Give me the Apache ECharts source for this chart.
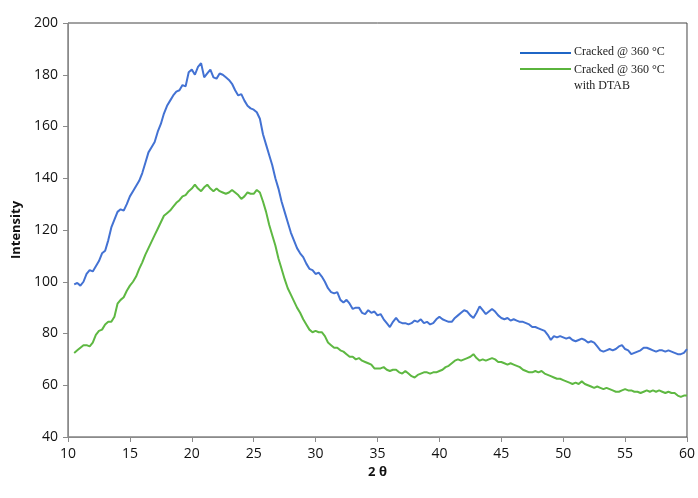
<!DOCTYPE html>
<html>
<head>
<meta charset="utf-8">
<script src="https://cdn.jsdelivr.net/npm/echarts@6/dist/echarts.min.js"></script>
<style>html,body{margin:0;padding:0;background:#fff}#c{width:698px;height:498px}</style>
</head>
<body>
<div id="c"></div>
<script>
// 2θ sampling: from 10.5 to 60 in steps of 0.25
var thetaStart = 10.5;
var thetaStep = 0.25;

var seriesNames = ['Cracked @ 360 °C', 'Cracked @ 360 °C\nwith DTAB'];

var crackedValues = [
  99, 99.5,                                   // 10.5-10.75
  98.5, 100, 103, 104.5,                      // 11
  104, 106, 108, 111,                         // 12
  112, 116, 121, 124,                         // 13
  127, 128, 127.5, 130,                       // 14
  133, 135, 137, 139,                         // 15
  142, 146, 150, 152,                         // 16
  154, 158, 161, 165,                         // 17
  168, 170, 172, 173.5,                       // 18
  174, 176, 175.5, 181,                       // 19
  182, 180, 183, 184.5,                       // 20
  179, 180.5, 182, 179,                       // 21
  178.5, 180.5, 180, 179,                     // 22
  178, 176.5, 174, 172,                       // 23
  172.5, 170, 168, 167,                       // 24
  166.5, 165.5, 163, 157,                     // 25
  153, 149, 145, 140,                         // 26
  136, 131, 127, 123,                         // 27
  119, 116, 113, 111,                         // 28
  109.5, 107, 105, 104.5,                     // 29
  103, 103.5, 102, 100,                       // 30
  97.5, 96, 95.5, 96,                         // 31
  93, 92, 93, 91.5,                           // 32
  89.5, 90, 90, 88,                           // 33
  87.5, 89, 88, 88.5,                         // 34
  87, 87.5, 85.5, 84,                         // 35
  82.5, 84.5, 86, 84.5,                       // 36
  84, 84, 83.5, 84,                           // 37
  85, 84.5, 85.5, 84,                         // 38
  84.5, 83.5, 84, 85.5,                       // 39
  86.5, 85.5, 85, 84.5,                       // 40
  84.5, 86, 87, 88,                           // 41
  89, 88.5, 87, 86,                           // 42
  88, 90.5, 89, 87.5,                         // 43
  88.5, 89.5, 88.5, 87,                       // 44
  86, 85.5, 86, 85,                           // 45
  85.5, 85, 84.5, 84.5,                       // 46
  84, 83.5, 82.5, 82.5,                       // 47
  82, 81.5, 81, 79.5,                         // 48
  77.5, 79, 78.5, 79,                         // 49
  78.5, 78, 78.5, 77.5,                       // 50
  77, 77.5, 78, 77.5,                         // 51
  76.5, 77, 76.5, 75,                         // 52
  73.5, 73, 73.5, 74,                         // 53
  73.5, 74, 75, 75.5,                         // 54
  74, 73.5, 72, 72.5,                         // 55
  73, 73.5, 74.5, 74.5,                       // 56
  74, 73.5, 73, 73.5,                         // 57
  73.5, 73, 73.5, 73,                         // 58
  72.5, 72, 72, 72.5,                         // 59
  74                                          // 60
];

var dtabValues = [
  72.5, 73.5,                                 // 10.5-10.75
  74.5, 75.5, 75.5, 75,                       // 11
  76.5, 79.5, 81, 81.5,                       // 12
  83.5, 84.5, 84.5, 86.5,                     // 13
  91.5, 93, 94, 96.5,                         // 14
  98.5, 100, 102, 105,                        // 15
  107.5, 110.5, 113, 115.5,                   // 16
  118, 120.5, 123, 125.5,                     // 17
  126.5, 127.5, 129, 130.5,                   // 18
  131.5, 133, 133.5, 135,                     // 19
  136, 137.5, 136, 135,                       // 20
  136.5, 137.5, 136, 135,                     // 21
  136, 135, 134.5, 134,                       // 22
  134.5, 135.5, 134.5, 133.5,                 // 23
  132, 133, 134.5, 134,                       // 24
  134, 135.5, 134.5, 131,                     // 25
  127, 122, 118, 114,                         // 26
  109, 105, 101, 97.5,                        // 27
  95, 92.5, 90, 88,                           // 28
  85.5, 83.5, 81.5, 80.5,                     // 29
  81, 80.5, 80.5, 79,                         // 30
  76.5, 75.5, 74.5, 74.5,                     // 31
  73.5, 73, 72, 71,                           // 32
  71, 70, 70.5, 69.5,                         // 33
  69, 68.5, 68, 66.5,                         // 34
  66.5, 66.5, 67, 66,                         // 35
  65.5, 66, 66, 65,                           // 36
  64.5, 65.5, 64.5, 63.5,                     // 37
  63, 64, 64.5, 65,                           // 38
  65, 64.5, 65, 65,                           // 39
  65.5, 66, 67, 67.5,                         // 40
  68.5, 69.5, 70, 69.5,                       // 41
  70, 70.5, 71, 72,                           // 42
  70.5, 69.5, 70, 69.5,                       // 43
  70, 70.5, 70, 69,                           // 44
  69, 68.5, 68, 68.5,                         // 45
  68, 67.5, 67, 66,                           // 46
  65.5, 65, 65, 65.5,                         // 47
  65, 65.5, 64.5, 64,                         // 48
  63.5, 63, 62.5, 62.5,                       // 49
  62, 61.5, 61, 60.5,                         // 50
  61, 60.5, 61.5, 60.5,                       // 51
  60, 59.5, 59, 59.5,                         // 52
  59, 58.5, 59, 58.5,                         // 53
  58, 57.5, 57.5, 58,                         // 54
  58.5, 58, 58, 57.5,                         // 55
  57.5, 57, 57.5, 58,                         // 56
  57.5, 58, 57.5, 58,                         // 57
  57.5, 57, 57.5, 57,                         // 58
  57, 56, 55.5, 56,                           // 59
  56                                          // 60
];

var seriesColors = ['#4372d3', '#5eb842'];

function pairs(vals) {
  var out = [];
  for (var i = 0; i < vals.length; i++) {
    out.push([+(thetaStart + i * thetaStep).toFixed(2), vals[i]]);
  }
  return out;
}

var chart = echarts.init(document.getElementById('c'), null, {renderer: 'canvas'});
var tickFont = '"Liberation Sans Narrow", "Open Sans", sans-serif';
var option = {
  backgroundColor: '#fff',
  animation: false,
  grid: {left: 68, right: 10, top: 23, bottom: 61, show: true, borderColor: '#444', borderWidth: 1},
  xAxis: {
    type: 'value', min: 10, max: 60, interval: 5,
    name: '2 θ', nameLocation: 'middle', nameGap: 24,
    nameTextStyle: {fontFamily: '"Open Sans", sans-serif', fontWeight: 'bold', fontSize: 13, color: '#111'},
    axisLine: {show: true, lineStyle: {color: '#8a8a8a', width: 1}},
    axisTick: {show: true, inside: false, length: 5, lineStyle: {color: '#8a8a8a'}},
    axisLabel: {fontFamily: tickFont, fontSize: 14, color: '#111', margin: 10},
    splitLine: {show: false}
  },
  yAxis: {
    type: 'value', min: 40, max: 200, interval: 20,
    name: 'Intensity', nameLocation: 'middle', nameGap: 43, nameRotate: 90,
    nameTextStyle: {fontFamily: '"Open Sans", sans-serif', fontWeight: 'bold', fontSize: 13, color: '#111'},
    axisLine: {show: true, lineStyle: {color: '#8a8a8a', width: 1}},
    axisTick: {show: true, inside: false, length: 5, lineStyle: {color: '#8a8a8a'}},
    axisLabel: {fontFamily: tickFont, fontSize: 14, color: '#111', margin: 10},
    splitLine: {show: false}
  },
  series: [
    {name: seriesNames[0], type: 'line', data: pairs(crackedValues), showSymbol: false,
     lineStyle: {color: seriesColors[0], width: 2}, itemStyle: {color: seriesColors[0]}},
    {name: seriesNames[1], type: 'line', data: pairs(dtabValues), showSymbol: false,
     lineStyle: {color: seriesColors[1], width: 2}, itemStyle: {color: seriesColors[1]}}
  ],
  graphic: [
    {type: 'line', shape: {x1: 520, y1: 53, x2: 571, y2: 53}, style: {stroke: '#1f66c6', lineWidth: 2}},
    {type: 'text', left: 574, top: 46, style: {text: seriesNames[0], font: '12px "Liberation Serif", serif', fill: '#222'}},
    {type: 'line', shape: {x1: 520, y1: 69, x2: 571, y2: 69}, style: {stroke: '#5ab43c', lineWidth: 2}},
    {type: 'text', left: 574, top: 62, style: {text: seriesNames[1], font: '12px "Liberation Serif", serif', fill: '#222', lineHeight: 16}}
  ]
};
chart.setOption(option);
</script>
</body>
</html>
